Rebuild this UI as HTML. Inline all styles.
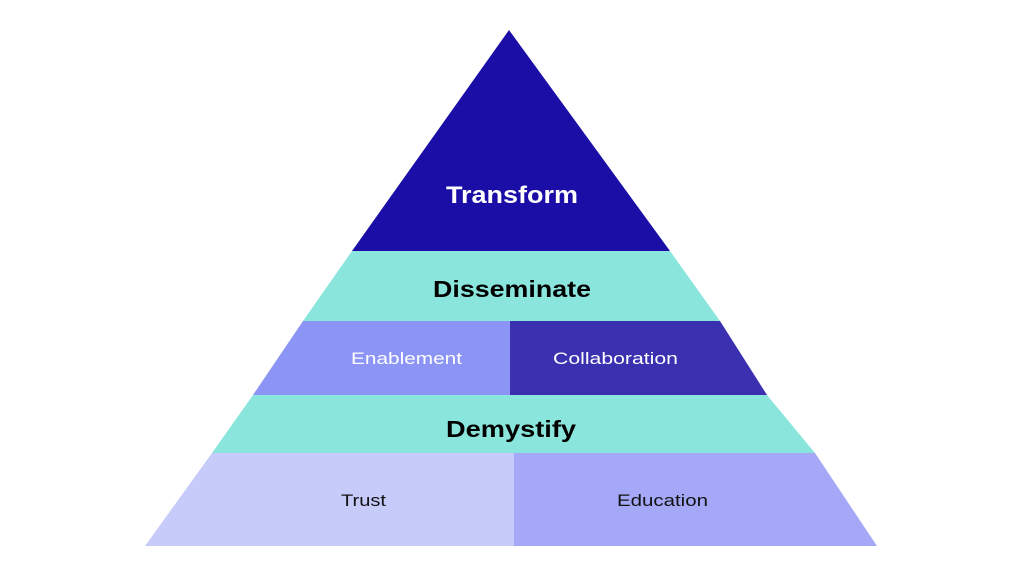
<!DOCTYPE html>
<html><head><style>
html,body{margin:0;padding:0;background:#fff;}
svg{display:block;}
text{font-family:"Liberation Sans",sans-serif;}
</style></head><body>
<svg width="1024" height="575" viewBox="0 0 1024 575" xmlns="http://www.w3.org/2000/svg">
<rect width="1024" height="575" fill="#fff"/>
<polygon points="509,30 670,251 352,251" fill="#1a0ea6"/>
<polygon points="352,251 670,251 720,321 303,321" fill="#8ae6dc"/>
<polygon points="303,321 510,321 510,395 253,395" fill="#8c94f6"/>
<polygon points="510,321 720,321 767,395 510,395" fill="#3a30b0"/>
<polygon points="253,395 767,395 815,453 212,453" fill="#8ae6dc"/>
<polygon points="212,453 514,453 514,546 145,546" fill="#c7cbfa"/>
<polygon points="514,453 815,453 877,546 514,546" fill="#a4a8f7"/>
<text x="446" y="203" font-size="24" font-weight="bold" fill="#fff" textLength="132" lengthAdjust="spacingAndGlyphs">Transform</text>
<text x="433" y="297" font-size="23" font-weight="bold" fill="#000" textLength="158" lengthAdjust="spacingAndGlyphs">Disseminate</text>
<text x="351" y="364" font-size="17" fill="#fff" textLength="111" lengthAdjust="spacingAndGlyphs">Enablement</text>
<text x="553" y="364" font-size="17" fill="#fff" textLength="125" lengthAdjust="spacingAndGlyphs">Collaboration</text>
<text x="446" y="437" font-size="23" font-weight="bold" fill="#000" textLength="130" lengthAdjust="spacingAndGlyphs">Demystify</text>
<text x="341" y="506" font-size="17" fill="#111" textLength="45" lengthAdjust="spacingAndGlyphs">Trust</text>
<text x="617" y="506" font-size="17" fill="#111" textLength="91" lengthAdjust="spacingAndGlyphs">Education</text>
</svg>
</body></html>
